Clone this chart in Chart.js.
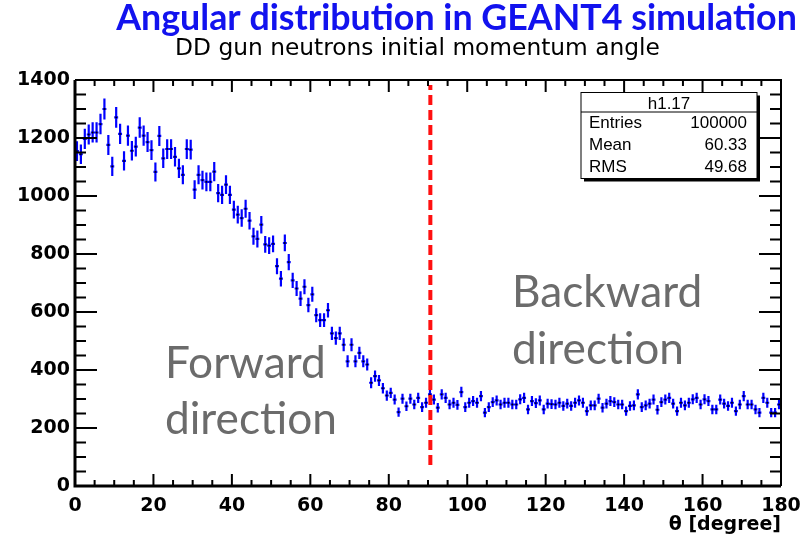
<!DOCTYPE html>
<html>
<head>
<meta charset="utf-8">
<script src="https://cdn.jsdelivr.net/npm/chart.js@4.4.1/dist/chart.umd.min.js"></script>
<style>
  html, body { margin: 0; padding: 0; background: #ffffff; }
  #wrap { width: 811px; height: 541px; position: relative; }
</style>
</head>
<body>
<div id="wrap"><canvas id="c" width="811" height="541"></canvas></div>
<script>
// Histogram h1.17: DD gun neutrons, initial momentum angle, 1-degree bins from 0 to 180
const thetaMin = 0;
const thetaMax = 180;
const binWidth = 1;
const counts = [
  1155, 1144, 1197, 1212, 1219, 1219, 1248, 1300, 1176, 1102,
  1271, 1214, 1121, 1208, 1156, 1170, 1236, 1208, 1186, 1158,
  1083, 1207, 1130, 1162, 1162, 1135, 1095, 1073, 1162, 1160,
  1022, 1073, 1055, 1049, 1049, 1084, 1010, 1004, 1039, 1004,
   953,  936,  924,  956,  915,  861,  852,  901,  833,  829,
   835,  758,  715,  838,  772,  709,  681,  646,  687,  624,
   661,  589,  572,  572,  606,  526,  510,  526,  487,  430,
   487,  430,  459,  430,  419,  356,  379,  364,  337,  312,
   321,  298,  255,  301,  275,  301,  281,  304,  272,  287,
   316,  298,  270,  316,  304,  281,  287,  280,  324,  272,
   287,  293,  287,  310,  253,  272,  289,  295,  281,  287,
   287,  281,  281,  299,  304,  264,  293,  286,  295,  264,
   284,  282,  281,  287,  276,  284,  276,  287,  295,  287,
   258,  278,  278,  301,  270,  284,  293,  289,  281,  281,
   258,  276,  278,  316,  272,  278,  284,  298,  263,  289,
   298,  304,  284,  258,  287,  278,  287,  299,  304,  281,
   299,  293,  264,  264,  298,  284,  276,  287,  258,  281,
   310,  281,  281,  264,  253,  304,  287,  253,  253,  281
];
const xTickValues = [0, 20, 40, 60, 80, 100, 120, 140, 160, 180];
const yTickValues = [0, 200, 400, 600, 800, 1000, 1200, 1400];
const yMin = 0;
const yMax = 1400;

// Forward / backward boundary and the extent of the dashed marker
const boundaryAngle = 90.6;
const boundarySpan = [72, 1383];

// Statistics box content
const histName = 'h1.17';
const statLabels = ['Entries', 'Mean', 'RMS'];
const statValues = ['100000', '60.33', '49.68'];

const titleText = 'Angular distribution in GEANT4 simulation';
const subtitleText = 'DD gun neutrons initial momentum angle';
const xTitleText = '\u03b8 [degree]';
const forwardLines = ['Forward', 'direction'];
const backwardLines = ['Backward', 'direction'];

const points = counts.map((n, i) => ({ x: thetaMin + (i + 0.5) * binWidth, y: n }));

const tickFont = { family: 'DejaVu Sans', weight: 'bold', size: 19 };

// Vertical sqrt(N) error bars plus horizontal bin-width bars
const errorBars = {
  id: 'errorBars',
  beforeDatasetsDraw(chart) {
    const { ctx, scales: { x, y }, chartArea } = chart;
    ctx.save();
    ctx.beginPath();
    ctx.rect(chartArea.left, chartArea.top, chartArea.width, chartArea.height);
    ctx.clip();
    ctx.strokeStyle = '#0000ff';
    ctx.lineWidth = 2.2;
    ctx.beginPath();
    counts.forEach((n, i) => {
      const lo = thetaMin + i * binWidth;
      const xc = x.getPixelForValue(lo + binWidth / 2);
      const x0 = x.getPixelForValue(lo);
      const x1 = x.getPixelForValue(lo + binWidth);
      const e = Math.sqrt(n);
      const yc = y.getPixelForValue(n);
      ctx.moveTo(xc, y.getPixelForValue(n + e));
      ctx.lineTo(xc, y.getPixelForValue(n - e));
      ctx.moveTo(x0, yc);
      ctx.lineTo(x1, yc);
    });
    ctx.stroke();
    ctx.restore();
  }
};

// Frame with inward-pointing ticks on all four sides
const frame = {
  id: 'frame',
  afterDatasetsDraw(chart) {
    const { ctx, scales: { x, y }, chartArea: a } = chart;
    ctx.save();
    ctx.strokeStyle = '#000';
    ctx.lineCap = 'butt';
    ctx.lineWidth = 2;
    ctx.beginPath();
    for (let v = thetaMin; v <= thetaMax; v += 5) {
      const px = x.getPixelForValue(v);
      const len = (v % 20 === 0) ? 12 : 6;
      ctx.moveTo(px, a.bottom); ctx.lineTo(px, a.bottom - len);
      ctx.moveTo(px, a.top); ctx.lineTo(px, a.top + len);
    }
    for (let v = yMin; v <= yMax; v += 50) {
      const py = y.getPixelForValue(v);
      const len = (v % 200 === 0) ? 22 : 11;
      ctx.moveTo(a.left, py); ctx.lineTo(a.left + len, py);
      ctx.moveTo(a.right, py); ctx.lineTo(a.right - len, py);
    }
    ctx.stroke();
    ctx.lineWidth = 2;
    ctx.beginPath();
    ctx.moveTo(a.left, a.top); ctx.lineTo(a.right, a.top); ctx.lineTo(a.right, a.bottom);
    ctx.stroke();
    ctx.lineWidth = 3;
    ctx.beginPath();
    ctx.moveTo(a.left, a.top); ctx.lineTo(a.left, a.bottom); ctx.lineTo(a.right, a.bottom);
    ctx.stroke();
    ctx.restore();
  }
};

// Statistics box in the upper right corner of the frame
const statsBox = {
  id: 'statsBox',
  afterDatasetsDraw(chart) {
    const { ctx } = chart;
    const l = 581, t = 92.5, r = 757, b = 178.5, sep = 112;
    ctx.save();
    ctx.fillStyle = '#000';
    ctx.fillRect(l + 3, t + 3, r - l, b - t);
    ctx.fillStyle = '#fff';
    ctx.fillRect(l, t, r - l, b - t);
    ctx.strokeStyle = '#000';
    ctx.lineWidth = 1;
    ctx.strokeRect(l, t, r - l, b - t);
    ctx.beginPath();
    ctx.moveTo(l, sep); ctx.lineTo(r, sep);
    ctx.stroke();
    ctx.fillStyle = '#000';
    ctx.font = '17px "Liberation Sans", Arial, sans-serif';
    ctx.textBaseline = 'middle';
    ctx.textAlign = 'center';
    ctx.fillText(histName, (l + r) / 2, 104);
    const rowY = [123.5, 145.5, 167];
    statLabels.forEach((lab, i) => {
      ctx.textAlign = 'left';
      ctx.fillText(lab, 589, rowY[i]);
      ctx.textAlign = 'right';
      ctx.fillText(statValues[i], 747, rowY[i]);
    });
    ctx.restore();
  }
};

function fitFont(ctx, text, family, weight, targetWidth) {
  ctx.font = `${weight} 40px ${family}`;
  const w = ctx.measureText(text).width;
  return 40 * targetWidth / w;
}

// Titles and the direction annotations
const labels = {
  id: 'labels',
  afterDraw(chart) {
    const { ctx } = chart;
    ctx.save();
    ctx.textBaseline = 'alphabetic';
    ctx.textAlign = 'center';

    const tSize = fitFont(ctx, titleText, 'Lato, "Open Sans", sans-serif', 'bold', 681);
    ctx.font = `bold ${tSize}px Lato, "Open Sans", sans-serif`;
    ctx.fillStyle = '#1212ee';
    ctx.fillText(titleText, 456.5, 30);

    const sSize = fitFont(ctx, subtitleText, '"DejaVu Sans", sans-serif', 'normal', 485);
    ctx.font = `normal ${sSize}px "DejaVu Sans", sans-serif`;
    ctx.fillStyle = '#000';
    ctx.fillText(subtitleText, 417.5, 55);

    const aSize = fitFont(ctx, 'direction', 'Lato, "Open Sans", sans-serif', 'normal', 172);
    ctx.font = `normal ${aSize}px Lato, "Open Sans", sans-serif`;
    ctx.fillStyle = '#6b6b6b';
    ctx.textAlign = 'left';
    ctx.fillText(forwardLines[0], 165, 378);
    ctx.fillText(forwardLines[1], 165, 434);
    ctx.fillText(backwardLines[0], 512, 307);
    ctx.fillText(backwardLines[1], 512, 364);
    ctx.restore();
  }
};

new Chart(document.getElementById('c'), {
  type: 'scatter',
  data: {
    datasets: [
      {
        data: points,
        pointRadius: 0.9,
        pointBorderWidth: 0,
        pointBackgroundColor: '#000',
        showLine: false,
        order: 2
      },
      {
        type: 'line',
        data: [{ x: boundaryAngle, y: boundarySpan[0] }, { x: boundaryAngle, y: boundarySpan[1] }],
        borderColor: '#ff1010',
        borderWidth: 4,
        borderDash: [10, 5],
        pointRadius: 0,
        showLine: true,
        fill: false,
        order: 1
      }
    ]
  },
  options: {
    responsive: false,
    animation: false,
    events: [],
    layout: { padding: { top: 80, right: 30, left: 0, bottom: 0 } },
    plugins: { legend: { display: false }, tooltip: { enabled: false }, title: { display: false } },
    scales: {
      x: {
        type: 'linear',
        min: thetaMin,
        max: thetaMax,
        afterFit(s) { s.height = 55; },
        afterBuildTicks(s) { s.ticks = xTickValues.map(v => ({ value: v })); },
        ticks: {
          font: tickFont, color: '#000', padding: 9, maxRotation: 0, autoSkip: false,
          callback: v => String(v)
        },
        grid: { display: false, drawTicks: false },
        border: { display: false },
        title: {
          display: true, text: xTitleText, align: 'end', color: '#000',
          font: tickFont, padding: { top: 0, bottom: 5 }
        }
      },
      y: {
        type: 'linear',
        min: yMin,
        max: yMax,
        afterFit(s) { s.width = 75; },
        afterBuildTicks(s) { s.ticks = yTickValues.map(v => ({ value: v })); },
        ticks: { font: tickFont, color: '#000', padding: 5, callback: v => String(v) },
        grid: { display: false, drawTicks: false },
        border: { display: false }
      }
    }
  },
  plugins: [errorBars, frame, statsBox, labels]
});
</script>
</body>
</html>
